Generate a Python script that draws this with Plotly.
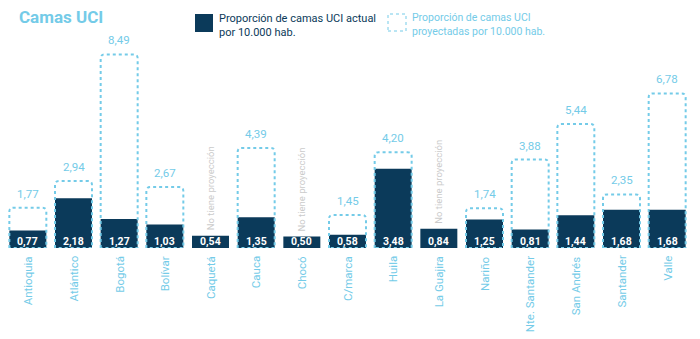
import plotly.graph_objects as go

categories = ["Antioquia", "Atlántico", "Bogotá", "Bolívar", "Caquetá", "Cauca", "Chocó",
              "C/marca", "Huila", "La Guajira", "Nariño", "Nte. Santander", "San Andrés",
              "Santander", "Valle"]
actual = [0.77, 2.18, 1.27, 1.03, 0.54, 1.35, 0.50, 0.58, 3.48, 0.84, 1.25, 0.81, 1.44, 1.68, 1.68]
projected = [1.77, 2.94, 8.49, 2.67, None, 4.39, None, 1.45, 4.20, None, 1.74, 3.88, 5.44, 2.35, 6.78]
title_text = "Camas UCI"
legend_actual = "Proporción de camas UCI actual<br>por 10.000 hab."
legend_proj = "Proporción de camas UCI<br>proyectadas por 10.000 hab."
no_proj_text = "No tiene proyección"

NAVY = "#0b3a5a"
LIGHT = "#74cbe8"
GREY = "#cbcbcb"
FONT = "Roboto"

W, H = 700, 339
L, R, T, B = 5, 10, 40, 91
px_per_y = 22.8
ymax = (H - T - B) / px_per_y
bar_w = 0.81
px_per_x = (W - L - R) / len(categories)


def fmt(v):
    return f"{v:.2f}".replace(".", ",")


def pxx(p):
    return (p - L) / (W - L - R)


def pxy(p):
    return 1 - (p - T) / (H - T - B)


xs = list(range(len(categories)))
fig = go.Figure()
fig.add_trace(go.Bar(x=xs, y=actual, width=bar_w, marker=dict(color=NAVY, line=dict(width=0)),
                     hoverinfo="skip"))

shapes = []
annotations = []
rx = 4 / px_per_x
ry = 4 / px_per_y
for i, (cat, a, p) in enumerate(zip(categories, actual, projected)):
    # category label under the axis
    annotations.append(dict(x=i, y=0, xref="x", yref="y", text=cat, showarrow=False,
                            textangle=-90, yanchor="top", yshift=-6,
                            font=dict(family=FONT, size=11.5, color=LIGHT)))
    # actual value inside bar
    annotations.append(dict(x=i, y=0, xref="x", yref="y", text=f"<b>{fmt(a)}</b>", showarrow=False,
                            yanchor="middle", yshift=6.5, font=dict(family=FONT, size=10.5, color="white")))
    if p is None:
        annotations.append(dict(x=i, y=a, xref="x", yref="y", text=no_proj_text, showarrow=False,
                                textangle=-90, yanchor="bottom", yshift=3,
                                font=dict(family=FONT, size=9.5, color=GREY)))
    else:
        x0, x1 = i - bar_w / 2, i + bar_w / 2
        path = (f"M {x0},0 L {x0},{p - ry} Q {x0},{p} {x0 + rx},{p} L {x1 - rx},{p} "
                f"Q {x1},{p} {x1},{p - ry} L {x1},0 Z")
        shapes.append(dict(type="path", path=path, xref="x", yref="y", layer="above",
                           line=dict(color=LIGHT, width=2, dash="3px,3px")))
        annotations.append(dict(x=i, y=p, xref="x", yref="y", text=fmt(p), showarrow=False,
                                yanchor="bottom", yshift=5, font=dict(family=FONT, size=11.5, color=LIGHT)))

# title
annotations.append(dict(x=pxx(17), y=pxy(17), xref="paper", yref="paper", text=f"<b>{title_text}</b>",
                        showarrow=False, xanchor="left", yanchor="middle",
                        font=dict(family=FONT, size=17, color=LIGHT)))
# legend
shapes.append(dict(type="rect", xref="paper", yref="paper", x0=pxx(195), x1=pxx(213), y0=pxy(32), y1=pxy(14),
                   fillcolor=NAVY, line=dict(width=0)))
annotations.append(dict(x=pxx(217), y=pxy(25), xref="paper", yref="paper", text=legend_actual,
                        showarrow=False, xanchor="left", yanchor="middle", align="left",
                        font=dict(family=FONT, size=11, color=NAVY)))
shapes.append(dict(type="rect", xref="paper", yref="paper", x0=pxx(388), x1=pxx(406), y0=pxy(31), y1=pxy(14),
                   line=dict(color=LIGHT, width=1, dash="3px,3px")))
annotations.append(dict(x=pxx(410), y=pxy(24), xref="paper", yref="paper", text=legend_proj,
                        showarrow=False, xanchor="left", yanchor="middle", align="left",
                        font=dict(family=FONT, size=10.5, color=LIGHT)))

fig.update_layout(
    width=W, height=H, margin=dict(l=L, r=R, t=T, b=B, autoexpand=False),
    paper_bgcolor="white", plot_bgcolor="white", showlegend=False,
    shapes=shapes, annotations=annotations, font=dict(family=FONT),
    xaxis=dict(range=[-0.5, len(categories) - 0.5], showticklabels=False, showgrid=False,
               zeroline=False, showline=False, ticks="", fixedrange=True),
    yaxis=dict(range=[0, ymax], visible=False, showgrid=False, zeroline=False, fixedrange=True),
)
fig.write_html("out.html")
